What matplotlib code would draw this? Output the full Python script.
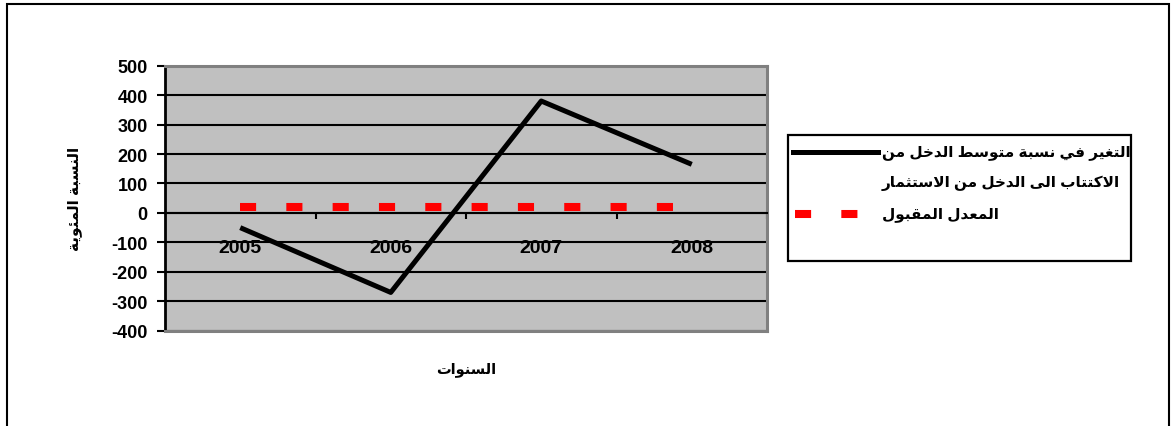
import matplotlib
matplotlib.use("Agg")
import matplotlib.pyplot as plt
from matplotlib.patches import Rectangle
from matplotlib.lines import Line2D

# data
years = ["2005", "2006", "2007", "2008"]
change_ratio = [-50, -270, 380, 165]
accepted_rate = [20, 20, 20, 20]
y_ticks = [-400, -300, -200, -100, 0, 100, 200, 300, 400, 500]

label_change = ["التغير في نسبة متوسط الدخل من", "الاكتتاب الى الدخل من الاستثمار"]
label_rate = ["المعدل المقبول"]
x_title = "السنوات"
y_title = "النسبة المئوية"

# matplotlib has no arabic shaping, so pick the presentation forms by hand
# and lay the glyphs out in visual (right to left) order
DUAL = {'ب': 0xFE8F, 'ت': 0xFE95, 'ث': 0xFE99, 'خ': 0xFEA5, 'س': 0xFEB1,
        'ط': 0xFEC1, 'ع': 0xFEC9, 'غ': 0xFECD, 'ف': 0xFED1, 'ق': 0xFED5,
        'ك': 0xFED9, 'ل': 0xFEDD, 'م': 0xFEE1, 'ن': 0xFEE5, 'ي': 0xFEF1,
        'ئ': 0xFE89}
RIGHT = {'ا': 0xFE8D, 'ة': 0xFE93, 'د': 0xFEA9, 'ر': 0xFEAD, 'و': 0xFEED,
         'ى': 0xFEEF}


def shape(line):
    items = []
    i = 0
    while i < len(line):
        if line[i] == 'ل' and i + 1 < len(line) and line[i + 1] == 'ا':
            items.append('لا')
            i += 2
        else:
            items.append(line[i])
            i += 1
    res = []
    for k, c in enumerate(items):
        prev = items[k - 1] if k > 0 else None
        nxt = items[k + 1] if k + 1 < len(items) else None
        join_prev = prev in DUAL
        if c == 'لا':
            res.append(chr(0xFEFC if join_prev else 0xFEFB))
        elif c in DUAL:
            join_next = nxt in DUAL or nxt in RIGHT or nxt == 'لا'
            if join_prev and join_next:
                off = 3
            elif join_prev:
                off = 1
            elif join_next:
                off = 2
            else:
                off = 0
            res.append(chr(DUAL[c] + off))
        elif c in RIGHT:
            res.append(chr(RIGHT[c] + (1 if join_prev else 0)))
        else:
            res.append(c)
    return ''.join(reversed(res))


plt.rcParams['font.family'] = ['Liberation Sans', 'DejaVu Sans']
plt.rcParams['font.weight'] = 'bold'

W, H = 1172, 427
fig = plt.figure(figsize=(W / 100, H / 100), dpi=100)
ax = fig.add_axes([165 / W, 1 - 331.7 / H, 602 / W, 265 / H])
ax.set_facecolor('#c0c0c0')

x = list(range(len(years)))
ax.plot(x, change_ratio, color='black', lw=3.6, zorder=3, solid_capstyle='butt')
ax.plot(x, accepted_rate, color='#ff0000', lw=5.8, dashes=(2, 3.75),
        dash_capstyle='butt', zorder=4)

ax.set_xlim(-0.5, len(years) - 0.5)
ax.set_ylim(-400, 500)
ax.set_yticks(y_ticks)
ax.set_yticklabels([str(v) for v in y_ticks])
ax.tick_params(axis='y', direction='out', length=5.5, width=1.5, pad=7,
               labelsize=13)

ax.set_xticks(x)
ax.set_xticklabels(years)
ax.set_xticks([v + 0.5 for v in x], minor=True)
ax.tick_params(axis='x', which='major', length=0, pad=19, labelsize=14)
ax.tick_params(axis='x', which='minor', direction='out', length=4.5, width=1.5)

ax.yaxis.grid(True, color='black', lw=1.5)

ax.spines['bottom'].set_position(('data', 0))
ax.spines['bottom'].set_linewidth(1.5)
ax.spines['left'].set_linewidth(2)
for side in ['top', 'right']:
    ax.spines[side].set_color('#808080')
    ax.spines[side].set_linewidth(2.2)
ax.axhline(-400, color='#808080', lw=2.2, zorder=2.6, clip_on=False)

ax.set_xlabel(shape(x_title), fontsize=10.5, fontweight='bold', va='center')
ax.xaxis.set_label_coords(0.5, (331.7 - 370) / 265)
ax.set_ylabel(shape(y_title), fontsize=11, fontweight='bold', va='center')
ax.yaxis.set_label_coords((75 - 165) / 602, 0.5)

# legend box drawn by hand so the handle sits on the first text line
fig.add_artist(Rectangle((788 / W, 1 - 262 / H), (1131 - 788) / W, (262 - 136) / H,
                         transform=fig.transFigure, fill=False, ec='black', lw=1.6))
fig.add_artist(Line2D([793 / W, 878 / W], [1 - 153 / H] * 2, transform=fig.transFigure,
                      color='black', lw=3.6))
fig.add_artist(Line2D([795 / W, 878 / W], [1 - 215 / H] * 2, transform=fig.transFigure,
                      color='#ff0000', lw=5.8, dashes=(2, 3.75), dash_capstyle='butt'))
for k, line in enumerate(label_change):
    fig.text(882 / W, 1 - (153 + 30 * k) / H, shape(line), fontsize=11,
             fontweight='bold', ha='left', va='center')
fig.text(882 / W, 1 - 215 / H, shape(label_rate[0]), fontsize=11,
         fontweight='bold', ha='left', va='center')

# outer chart border (runs off the bottom of the picture)
fig.add_artist(Rectangle((7 / W, -0.1), (1169 - 7) / W, 1.1 - 5 / H,
                         transform=fig.transFigure, fill=False, ec='black', lw=1.5))

fig.savefig('out.png', dpi=100)
